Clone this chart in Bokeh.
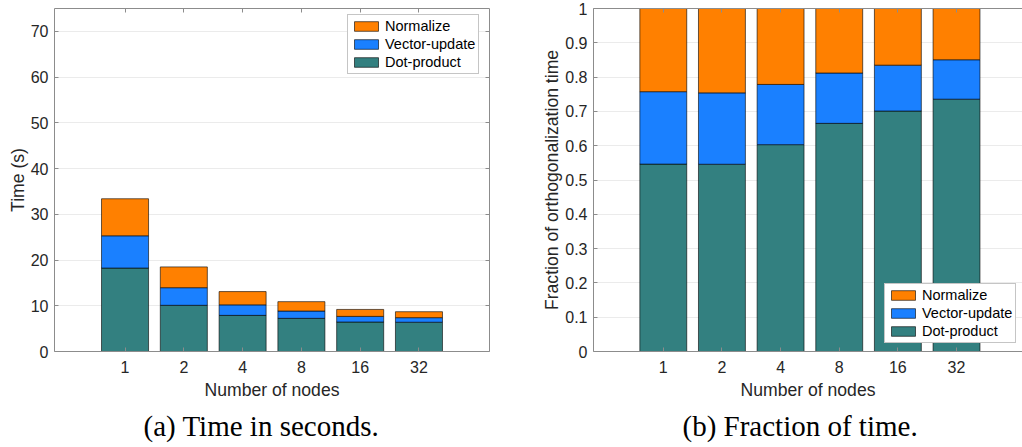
from bokeh.plotting import figure
from bokeh.layouts import row
from bokeh.models import (Range1d, FixedTicker, LinearAxis, Legend, LegendItem, Title,
                          ColumnDataSource)
from bokeh.embed import file_html
from bokeh.resources import INLINE

# Orthogonalization time breakdown per node count
nodes = ["1", "2", "4", "8", "16", "32"]
dot_product = [18.25, 10.1, 7.9, 7.25, 6.45, 6.4]
vector_update = [7.05, 3.85, 2.3, 1.6, 1.23, 1.0]
normalize = [8.1, 4.55, 2.9, 2.05, 1.52, 1.3]

parts = ["dot", "vec", "norm"]
part_labels = ["Dot-product", "Vector-update", "Normalize"]
colors = ["#338080", "#1a80ff", "#ff8000"]

time_ticks = [0, 10, 20, 30, 40, 50, 60, 70]
frac_ticks = [0, 0.1, 0.2, 0.3, 0.4, 0.5, 0.6, 0.7, 0.8, 0.9, 1]

FONT = "Liberation Sans"
TXT = "#262626"
AX = "#8c8c8c"

xpos = list(range(1, len(nodes) + 1))
totals = [a + b + c for a, b, c in zip(dot_product, vector_update, normalize)]

src_time = ColumnDataSource(dict(x=xpos, dot=dot_product, vec=vector_update, norm=normalize))
src_frac = ColumnDataSource(dict(
    x=xpos,
    dot=[v / t for v, t in zip(dot_product, totals)],
    vec=[v / t for v, t in zip(vector_update, totals)],
    norm=[v / t for v, t in zip(normalize, totals)],
))

x_overrides = {i: n for i, n in zip(xpos, nodes)}


def style_axis(ax, labels=True):
    ax.axis_line_color = AX
    ax.major_tick_line_color = AX
    ax.major_tick_in = 4
    ax.major_tick_out = 0
    ax.minor_tick_line_color = None
    ax.major_label_text_font = FONT
    ax.major_label_text_color = TXT
    ax.major_label_text_font_size = "16px"
    ax.axis_label_text_font = FONT
    ax.axis_label_text_color = TXT
    ax.axis_label_text_font_size = "17.6px"
    ax.axis_label_text_font_style = "normal"
    if not labels:
        ax.major_label_text_font_size = "0px"
        ax.major_label_standoff = 0


def make_panel(src, width, yr, xr, yticks, ylabel, borders, legend_loc, caption,
               right_axis=True):
    bl, br, bt, bb = borders
    p = figure(width=width, height=447, output_backend="svg", toolbar_location=None,
               x_range=Range1d(*xr), y_range=Range1d(*yr),
               min_border_left=bl, min_border_right=br, min_border_top=bt,
               min_border_bottom=bb, x_axis_location=None, y_axis_location=None)
    p.outline_line_color = None
    p.background_fill_color = "white"
    p.border_fill_color = "white"

    rs = p.vbar_stack(parts, x="x", width=0.8, source=src, color=colors,
                      line_color="black", line_alpha=0.6, line_width=1)

    xt = FixedTicker(ticks=xpos)
    yt = FixedTicker(ticks=yticks)

    bottom = LinearAxis(ticker=xt, axis_label="Number of nodes",
                        major_label_overrides=x_overrides)
    style_axis(bottom)
    bottom.major_label_standoff = 9
    bottom.axis_label_standoff = 4
    p.add_layout(bottom, "below")

    top = LinearAxis(ticker=xt, major_label_overrides={i: "" for i in xpos})
    style_axis(top, labels=False)
    p.add_layout(top, "above")

    left = LinearAxis(ticker=yt, axis_label=ylabel,
                      major_label_overrides={0: "0", 1: "1"} if yr[1] == 1 else {})
    style_axis(left)
    left.major_label_standoff = 6
    left.axis_label_standoff = 0
    p.add_layout(left, "left")

    if right_axis:
        right = LinearAxis(ticker=yt, major_label_overrides={t: "" for t in yticks})
        style_axis(right, labels=False)
        p.add_layout(right, "right")

    p.ygrid.ticker = yt
    p.ygrid.grid_line_color = "#ebebeb"
    p.ygrid.grid_line_width = 1
    p.xgrid.grid_line_color = None

    items = [LegendItem(label=lab, renderers=[r]) for lab, r in zip(part_labels, rs)][::-1]
    leg = Legend(items=items, location=legend_loc, margin=0, padding=3, spacing=2,
                 glyph_width=30, glyph_height=12, label_height=14, label_standoff=4,
                 label_text_font=FONT, label_text_font_size="14.5px",
                 label_text_color="black", border_line_color="#8c8c8c",
                 background_fill_alpha=1.0)
    p.add_layout(leg, "center")

    cap = Title(text=caption, align="left", text_font="Liberation Serif",
                text_font_size="29px", text_font_style="normal", text_color="black",
                offset=89, standoff=11)
    p.add_layout(cap, "below")
    return p


p1 = make_panel(src_time, 520, (0, 75), (-0.2, 7.2), time_ticks, "Time (s)",
                (54, 31, 8, 96), (293, 277), "(a) Time in seconds.")
p2 = make_panel(src_frac, 502, (0, 1), (-0.19, 7.125), frac_ticks,
                "Fraction of orthogonalization time",
                (73, 0, 8, 96), (291, 8), "(b) Fraction of time.", right_axis=False)

layout = row(p1, p2)
open("out.html", "w").write(file_html(layout, INLINE))
